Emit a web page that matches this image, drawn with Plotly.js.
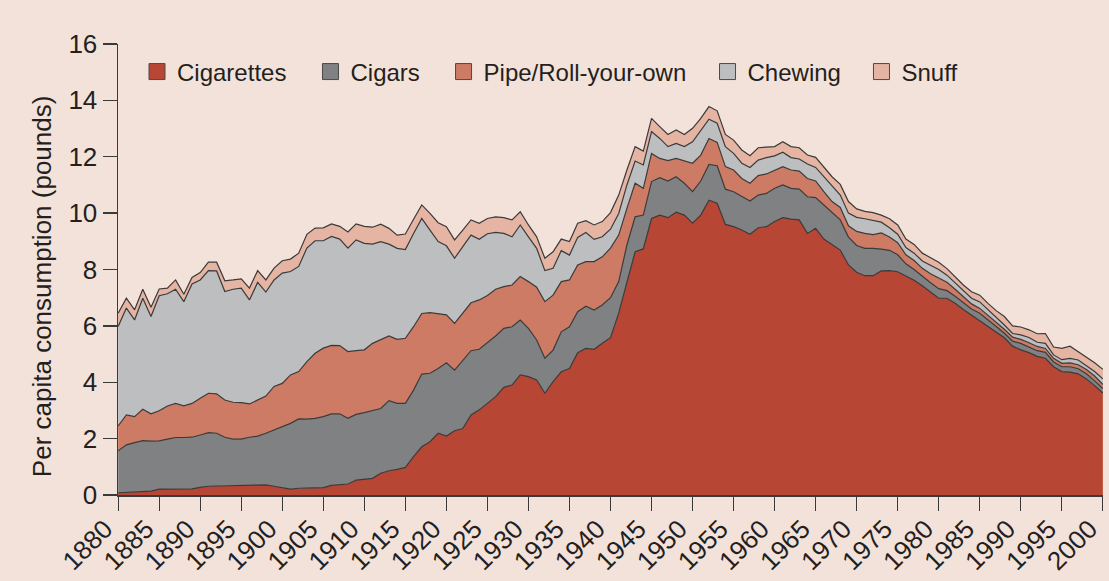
<!DOCTYPE html>
<html>
<head>
<meta charset="utf-8">
<script src="https://cdn.plot.ly/plotly-3.0.1.min.js"></script>
<style>
html,body{margin:0;padding:0;background:#F3E2DA;}
#chart{width:1109px;height:581px;}
</style>
</head>
<body>
<div id="chart"></div>
<script>
// Per capita consumption (pounds), one value per year from 1880 to 2000
const startYear = 1880;

const cigarettes = [
0.08,0.10,0.12,0.13,0.14,0.21,0.21,0.21,0.21,0.22,
0.27,0.31,0.32,0.33,0.33,0.34,0.34,0.36,0.36,0.31,
0.25,0.21,0.24,0.24,0.24,0.26,0.34,0.36,0.39,0.53,
0.55,0.59,0.77,0.86,0.91,0.98,1.36,1.71,1.89,2.19,
2.09,2.28,2.36,2.84,3.02,3.25,3.49,3.82,3.90,4.26,
4.20,4.08,3.61,4.02,4.37,4.49,5.05,5.20,5.17,5.38,
5.58,6.45,7.55,8.63,8.73,9.81,9.93,9.84,10.03,9.93,
9.64,9.93,10.46,10.35,9.60,9.52,9.40,9.25,9.48,9.52,
9.70,9.84,9.79,9.76,9.28,9.46,9.08,8.89,8.69,8.16,
7.90,7.78,7.78,7.95,7.96,7.92,7.78,7.62,7.42,7.20,
6.98,6.98,6.80,6.58,6.38,6.20,5.98,5.80,5.58,5.28,
5.15,5.05,4.92,4.85,4.55,4.38,4.36,4.30,4.12,3.88,
3.62];

const cigars = [
1.49,1.68,1.74,1.80,1.77,1.71,1.77,1.83,1.83,1.83,
1.86,1.90,1.87,1.72,1.65,1.64,1.71,1.73,1.83,2.00,
2.18,2.33,2.46,2.45,2.48,2.52,2.54,2.52,2.33,2.33,
2.37,2.40,2.30,2.49,2.34,2.27,2.36,2.58,2.43,2.30,
2.60,2.15,2.43,2.28,2.15,2.15,2.15,2.09,2.07,1.95,
1.71,1.42,1.24,1.12,1.42,1.48,1.45,1.50,1.39,1.36,
1.42,1.12,1.32,1.24,1.20,1.31,1.33,1.30,1.26,1.13,
1.12,1.21,1.27,1.33,1.25,1.24,1.18,1.18,1.16,1.18,
1.18,1.16,1.09,1.09,1.30,1.09,1.21,1.14,1.07,0.99,
0.95,0.97,0.97,0.77,0.72,0.60,0.42,0.38,0.34,0.33,
0.34,0.27,0.25,0.24,0.22,0.25,0.22,0.18,0.16,0.18,
0.23,0.21,0.20,0.21,0.17,0.17,0.19,0.18,0.18,0.17,
0.16];

const pipeRollYourOwn = [
0.88,1.06,0.92,1.11,0.97,1.07,1.18,1.21,1.12,1.20,
1.30,1.40,1.40,1.32,1.31,1.30,1.18,1.28,1.32,1.54,
1.53,1.72,1.68,2.04,2.31,2.43,2.43,2.42,2.37,2.26,
2.23,2.39,2.43,2.29,2.27,2.31,2.25,2.15,2.15,1.93,
1.70,1.66,1.68,1.70,1.75,1.68,1.66,1.48,1.48,1.54,
1.66,1.87,2.01,1.95,1.78,1.66,1.66,1.58,1.72,1.71,
1.76,1.65,1.30,1.19,0.95,1.00,0.68,0.72,0.65,0.80,
1.01,0.92,0.92,0.83,0.80,0.77,0.65,0.63,0.69,0.69,
0.65,0.65,0.65,0.64,0.65,0.59,0.47,0.38,0.44,0.40,
0.50,0.53,0.49,0.58,0.47,0.43,0.32,0.32,0.28,0.32,
0.38,0.30,0.25,0.21,0.18,0.17,0.18,0.17,0.14,0.14,
0.14,0.14,0.15,0.14,0.13,0.12,0.14,0.14,0.15,0.17,
0.14];

const chewing = [
3.53,3.79,3.43,3.94,3.45,4.08,3.98,4.05,3.70,4.24,
4.20,4.35,4.36,3.85,4.01,4.06,3.69,4.17,3.69,3.78,
3.91,3.67,3.73,4.03,3.99,3.81,3.86,3.78,3.67,3.93,
3.78,3.52,3.49,3.26,3.23,3.15,3.31,3.37,2.93,2.57,
2.45,2.31,2.34,2.40,2.15,2.19,2.02,1.89,1.71,1.83,
1.59,1.38,1.10,0.95,1.10,0.88,0.98,1.03,0.79,0.71,
0.67,0.77,0.83,0.79,0.83,0.77,0.71,0.50,0.53,0.50,
0.76,0.89,0.68,0.68,0.71,0.59,0.54,0.56,0.55,0.58,
0.50,0.51,0.44,0.43,0.51,0.48,0.53,0.53,0.44,0.45,
0.50,0.52,0.51,0.38,0.33,0.30,0.26,0.26,0.26,0.30,
0.30,0.25,0.22,0.21,0.20,0.23,0.20,0.15,0.15,0.13,
0.16,0.19,0.15,0.18,0.12,0.13,0.16,0.17,0.15,0.16,
0.20];

const snuff = [
0.47,0.35,0.36,0.32,0.33,0.24,0.20,0.33,0.26,0.23,
0.26,0.30,0.31,0.38,0.33,0.33,0.42,0.42,0.43,0.42,
0.44,0.44,0.47,0.49,0.45,0.46,0.45,0.45,0.57,0.57,
0.60,0.60,0.62,0.56,0.47,0.55,0.50,0.48,0.59,0.67,
0.68,0.65,0.59,0.54,0.57,0.54,0.55,0.56,0.60,0.47,
0.42,0.41,0.44,0.59,0.41,0.48,0.50,0.42,0.51,0.54,
0.59,0.65,0.53,0.51,0.49,0.47,0.42,0.43,0.48,0.43,
0.48,0.41,0.45,0.44,0.43,0.47,0.47,0.42,0.44,0.36,
0.33,0.37,0.39,0.40,0.32,0.36,0.36,0.35,0.38,0.41,
0.30,0.26,0.27,0.25,0.32,0.33,0.30,0.31,0.28,0.28,
0.26,0.23,0.23,0.21,0.23,0.24,0.22,0.24,0.30,0.27,
0.28,0.27,0.30,0.35,0.28,0.40,0.43,0.29,0.31,0.31,
0.34];

const seriesNames = ['Cigarettes', 'Cigars', 'Pipe/Roll-your-own', 'Chewing', 'Snuff'];
const seriesValues = [cigarettes, cigars, pipeRollYourOwn, chewing, snuff];
const seriesColors = ['#B84634', '#808183', '#CD7B65', '#BDBEC0', '#E5B4A3'];
const tickYears = [1880,1885,1890,1895,1900,1905,1910,1915,1920,1925,1930,1935,1940,
                   1945,1950,1955,1960,1965,1970,1975,1980,1985,1990,1995,2000];
const yTicks = [0,2,4,6,8,10,12,14,16];
const yTitle = 'Per capita consumption (pounds)';

const years = cigarettes.map((_, i) => startYear + i);

const FONT = '"Liberation Sans", Arial, Helvetica, sans-serif';
const INK = '#231F20';
const EDGE = '#3A3A3A';

const traces = [];
seriesNames.forEach((name, i) => {
  traces.push({
    type: 'scatter', mode: 'lines', name: name,
    x: years, y: seriesValues[i],
    stackgroup: 'tobacco',
    line: {color: EDGE, width: 1.2, shape: 'linear'},
    fillcolor: seriesColors[i],
    showlegend: false, hoverinfo: 'skip'
  });
});
// legend entries (square swatches)
const legendIds = ['legend', 'legend2', 'legend3', 'legend4', 'legend5'];
seriesNames.forEach((name, i) => {
  traces.push({
    type: 'scatter', mode: 'markers', name: name,
    x: [null], y: [null],
    marker: {symbol: 'square', size: 19, color: seriesColors[i], line: {color: '#4A4A4A', width: 1}},
    legend: legendIds[i], showlegend: true, hoverinfo: 'skip'
  });
});

const legendX = [0.0193, 0.1954, 0.3305, 0.5985, 0.7548];
const layout = {
  width: 1109, height: 581,
  paper_bgcolor: '#F3E2DA', plot_bgcolor: '#F3E2DA',
  margin: {l: 118, r: 6, t: 44, b: 86},
  font: {family: FONT, color: INK, size: 24},
  showlegend: true,
  xaxis: {
    range: [1879.98, 2000.02], tickvals: tickYears, ticktext: tickYears.map(String),
    tickangle: -45, ticks: 'outside', ticklen: 14, tickwidth: 1.3, tickcolor: EDGE,
    ticklabelshift: -13, ticklabelstandoff: -7,
    showline: true, linecolor: EDGE, linewidth: 1.5, showgrid: false, zeroline: false,
    tickfont: {size: 26, family: FONT, color: INK}, automargin: false, fixedrange: true
  },
  yaxis: {
    range: [0, 16], tickvals: yTicks, ticks: 'outside', ticklen: 14, tickwidth: 1.3, tickcolor: EDGE,
    showline: true, linecolor: EDGE, linewidth: 1.5, showgrid: false, zeroline: false,
    tickfont: {size: 26, family: FONT, color: INK}, automargin: false, fixedrange: true
  },
  annotations: [{
    text: yTitle, textangle: -90, showarrow: false,
    xref: 'paper', yref: 'paper', x: -0.0772, y: 0.463, xanchor: 'center', yanchor: 'middle',
    font: {size: 26, family: FONT, color: INK}
  }]
};
legendIds.forEach((id, i) => {
  layout[id] = {
    x: legendX[i], xanchor: 'left', y: 0.938, yanchor: 'middle',
    orientation: 'h', bgcolor: 'rgba(0,0,0,0)', borderwidth: 0,
    font: {size: 24, family: FONT, color: INK}, itemsizing: 'trace'
  };
});

Plotly.newPlot('chart', traces, layout, {staticPlot: true, displayModeBar: false});
</script>
</body>
</html>
